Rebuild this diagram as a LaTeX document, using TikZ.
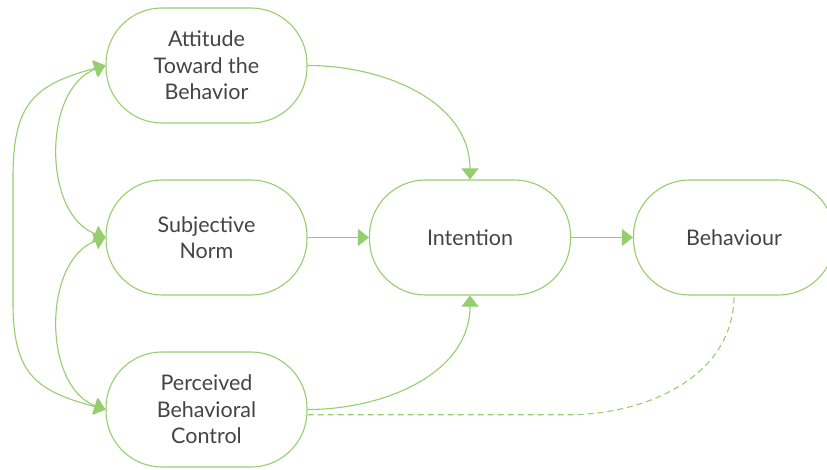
\documentclass[tikz,border=0pt]{standalone}
\usepackage{fontspec}
\setmainfont{Lato}
\usetikzlibrary{arrows.meta}
\definecolor{leaf}{RGB}{150,206,110}
\definecolor{ink}{RGB}{68,68,68}
\begin{document}
\begin{tikzpicture}[x=1pt,y=1pt,
    box/.style={draw=leaf,line width=1.1pt,rounded corners=56pt,minimum width=201pt,minimum height=115pt,align=center,text=ink,font=\fontsize{21.5}{26.5}\selectfont},
    link/.style={draw=leaf,line width=1.1pt,-{Triangle[length=11pt,width=17pt]}},
    both/.style={link,{Triangle[length=11pt,width=17pt]}-{Triangle[length=11pt,width=17pt]}}]
    \useasboundingbox (0,0) rectangle (827,469);
    \node[box] (att) at (206.5,403.5) {Attitude\\Toward the\\Behavior};
    \node[box] (sn) at (206.5,231.5) {Subjective\\Norm};
    \node[box] (pbc) at (206.5,59.5) {Perceived\\Behavioral\\Control};
    \node[box] (int) at (470,231.5) {Intention};
    \node[box] (beh) at (734,231.5) {Behaviour};
    \coordinate (outtop) at (13,292);
    \coordinate (outbot) at (13,166);
    \draw[both] (att.west) to[out=195,in=90,looseness=1.3] (outtop) -- (outbot) to[out=-90,in=165,looseness=1.3] (pbc.west);
    \draw[both] (att.west) to[out=200,in=160] (sn.west);
    \draw[both] (sn.west) to[out=200,in=160] (pbc.west);
    \draw[link] (att.east) to[out=0,in=90] (int.north);
    \draw[link] (sn) -- (int);
    \draw[link] (pbc.east) to[out=0,in=-90] (int.south);
    \draw[link] (int) -- (beh);
    \draw[leaf,line width=1.1pt,dash pattern=on 6pt off 4pt] (pbc.-3) -- ++(260,0) to[out=0,in=-90] (beh.south);
\end{tikzpicture}
\end{document}
